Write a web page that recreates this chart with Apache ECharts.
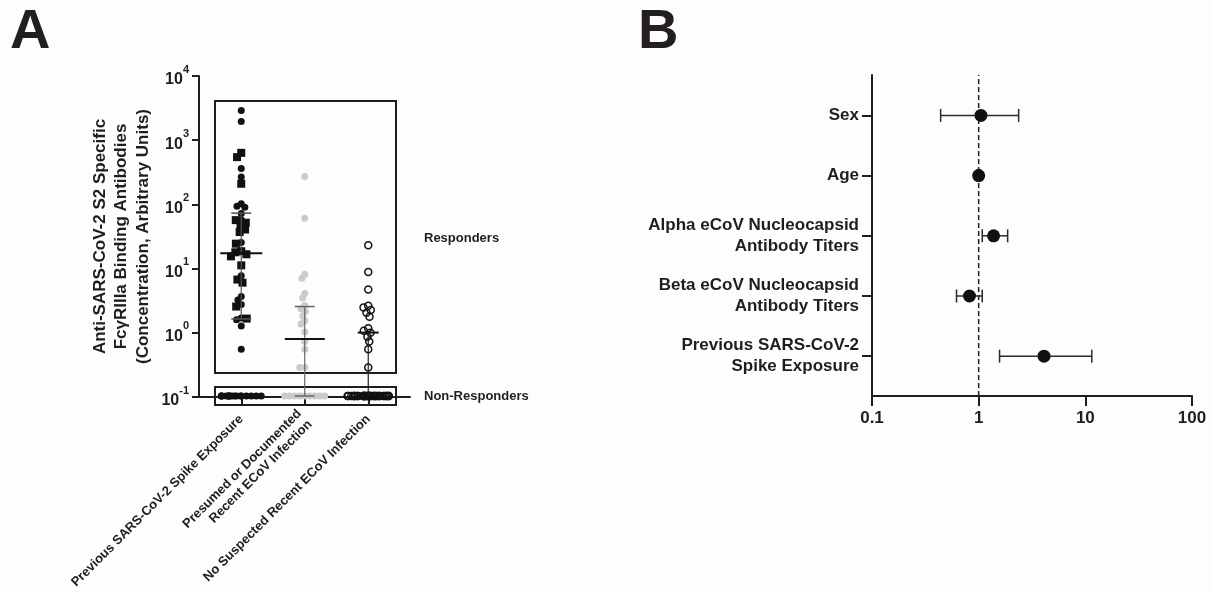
<!DOCTYPE html>
<html><head><meta charset="utf-8">
<script src="https://cdn.jsdelivr.net/npm/echarts@6/dist/echarts.min.js"></script>
<style>html,body{margin:0;padding:0;background:#fdfdfb}#c{width:1212px;height:592px}</style>
</head><body><div id="c"></div>
<script>
// ---------- Panel A data ----------
const groupsA = ['Previous SARS-CoV-2 Spike Exposure', 'Presumed or Documented\nRecent ECoV Infection', 'No Suspected Recent ECoV Infection'];
const spikeCircles = [2900, 1950, 360, 265, 101, 92, 89, 71, 57, 25, 7.6, 3.6, 3.15, 2.7, 1.65, 1.55, 1.24, 0.54];
const spikeSquares = [630, 540, 207, 56, 51, 46, 40, 36.5, 24, 18.3, 17.6, 16.4, 15.2, 11, 6.6, 5.9, 2.5, 1.62];
const spikeNonResp = [0.1, 0.1, 0.1, 0.1, 0.1, 0.1, 0.1, 0.1, 0.1, 0.1, 0.1, 0.1, 0.1, 0.1, 0.1, 0.1];
const ecovResp = [269, 60, 8.0, 6.9, 4.0, 3.4, 2.6, 2.3, 2.1, 1.8, 1.5, 1.33, 1.0, 0.71, 0.54, 0.28, 0.28];
const ecovNonResp = [0.1, 0.1, 0.1, 0.1, 0.1, 0.1, 0.1, 0.1, 0.1];
const noneResp = [22.6, 8.7, 4.6, 2.57, 2.42, 2.2, 2.0, 1.73, 1.14, 1.05, 0.97, 0.84, 0.71, 0.54, 0.28];
const noneNonResp = [0.1, 0.1, 0.1, 0.1, 0.1, 0.1, 0.1, 0.1, 0.1, 0.1, 0.1, 0.1, 0.1, 0.1, 0.1, 0.1, 0.1, 0.1, 0.1, 0.1,
                     0.1, 0.1, 0.1, 0.1, 0.1, 0.1, 0.1, 0.1, 0.1, 0.1, 0.1, 0.1, 0.1, 0.1, 0.1, 0.1, 0.1, 0.1, 0.1, 0.1];
const centerA = [17, 0.78, 0.98];
const barLowA = [1.6, 0.1, 0.1];
const barHighA = [72, 2.5, 0.98];

// ---------- Panel B data ----------
const predictors = ['Sex', 'Age', 'Alpha eCoV Nucleocapsid\nAntibody Titers', 'Beta eCoV Nucleocapsid\nAntibody Titers', 'Previous SARS-CoV-2\nSpike Exposure'];
const oddsRatio = [1.05, 1.0, 1.38, 0.82, 4.1];
const ciLow = [0.44, 0.97, 1.08, 0.62, 1.57];
const ciHigh = [2.37, 1.03, 1.87, 1.08, 11.5];
const nullEffect = 1;

// ---------- styling ----------
const FONT = 'Liberation Sans, Arial, Helvetica, sans-serif';
const INK = '#1e1e1e';
const summaryStyle = [
  {half: 21, cap: 10, bar: '#555'},
  {half: 20, cap: 10, bar: '#666'},
  {half: 10.5, cap: 0, bar: '#222'}
];

const pair = (idx, arr) => arr.map(v => [idx, v]);

const chart = echarts.init(document.getElementById('c'), null, {renderer: 'canvas'});
const hiddenX = gi => ({type: 'value', gridIndex: gi, show: false});
const hiddenY = gi => ({type: 'value', gridIndex: gi, show: false});

chart.setOption({
  backgroundColor: '#fdfdfb',
  animation: false,
  textStyle: {fontFamily: FONT},
  title: [
    {text: 'A', left: 5, top: 0, textStyle: {fontSize: 56, fontWeight: 'bold', color: '#231f20', fontFamily: FONT}},
    {text: 'B', left: 633, top: 0, textStyle: {fontSize: 56, fontWeight: 'bold', color: '#231f20', fontFamily: FONT}}
  ],
  grid: [
    {left: 199, top: 76, width: 211, height: 321},          // 0 A outer (axes)
    {left: 209.5, top: 76, width: 190.5, height: 321},      // 1 A inner (data)
    {left: 215, top: 101, width: 181, height: 272, show: true, borderColor: INK, borderWidth: 2}, // 2 responders box
    {left: 215, top: 387, width: 181, height: 18, show: true, borderColor: INK, borderWidth: 2},  // 3 non-responders box
    {left: 872, top: 75, width: 320, height: 321},          // 4 B outer
    {left: 872, top: 85.3, width: 320, height: 301}         // 5 B inner
  ],
  xAxis: [
    {type: 'value', gridIndex: 0, min: 0, max: 1, axisLine: {show: true, onZero: false, lineStyle: {color: INK, width: 2}},
     axisTick: {show: false}, axisLabel: {show: false}, splitLine: {show: false}},
    {type: 'category', gridIndex: 1, data: groupsA, boundaryGap: true,
     jitter: 42, jitterOverlap: false, jitterMargin: -2,
     axisLine: {show: false, onZero: false}, axisTick: {show: true, alignWithLabel: true, length: 8, lineStyle: {color: INK, width: 2}},
     axisLabel: {rotate: 45, margin: 21, fontSize: 13, fontWeight: 'bold', color: INK, fontFamily: FONT, lineHeight: 15, interval: 0},
     splitLine: {show: false}},
    hiddenX(2), hiddenX(3),
    {type: 'log', gridIndex: 4, logBase: 10, min: 0.1, max: 100,
     axisLine: {show: true, onZero: false, lineStyle: {color: INK, width: 2}},
     axisTick: {show: true, length: 10, lineStyle: {color: INK, width: 2}},
     axisLabel: {fontSize: 17, fontWeight: 'bold', color: INK, fontFamily: FONT, margin: 14,
                 formatter: v => (v < 1 ? v.toFixed(1) : String(Math.round(v)))},
     splitLine: {show: false}, minorTick: {show: false}},
    {type: 'log', gridIndex: 5, logBase: 10, min: 0.1, max: 100, show: false}
  ],
  yAxis: [
    {type: 'log', gridIndex: 0, logBase: 10, min: 0.1, max: 10000,
     axisLine: {show: true, onZero: false, lineStyle: {color: INK, width: 2}},
     axisTick: {show: true, length: 7, lineStyle: {color: INK, width: 2}},
     axisLabel: {margin: 10, color: INK,
       formatter: v => '{b|10}{s|' + Math.round(Math.log10(v)) + '}',
       rich: {
         b: {fontSize: 16, fontWeight: 'bold', fontFamily: FONT, color: INK, lineHeight: 24, verticalAlign: 'bottom'},
         s: {fontSize: 11, fontWeight: 'bold', fontFamily: FONT, color: INK, lineHeight: 24, verticalAlign: 'top'}
       }},
     splitLine: {show: false},
     name: 'Anti-SARS-CoV-2 S2 Specific\nFc\u03b3RIIIa Binding Antibodies\n(Concentration, Arbitrary Units)',
     nameLocation: 'middle', nameGap: 45, nameRotate: 90,
     nameTextStyle: {fontSize: 17, fontWeight: 'bold', color: INK, fontFamily: FONT, lineHeight: 21.5, align: 'center'}},
    {type: 'log', gridIndex: 1, logBase: 10, min: 0.1, max: 10000, show: false},
    hiddenY(2), hiddenY(3),
    {type: 'value', gridIndex: 4, min: 0, max: 1,
     axisLine: {show: true, onZero: false, lineStyle: {color: INK, width: 2}},
     axisTick: {show: false}, axisLabel: {show: false}, splitLine: {show: false}},
    {type: 'category', gridIndex: 5, data: predictors, inverse: true, boundaryGap: true,
     axisLine: {show: false}, axisTick: {show: true, alignWithLabel: true, length: 10, lineStyle: {color: INK, width: 2}},
     axisLabel: {margin: 13, fontSize: 17, fontWeight: 'bold', color: INK, fontFamily: FONT, lineHeight: 21, align: 'right', interval: 0},
     splitLine: {show: false}}
  ],
  graphic: [
    {type: 'text', x: 424, y: 238, style: {text: 'Responders', fontSize: 13, fontWeight: 'bold', fontFamily: FONT, fill: INK, verticalAlign: 'middle'}},
    {type: 'text', x: 424, y: 396, style: {text: 'Non-Responders', fontSize: 13, fontWeight: 'bold', fontFamily: FONT, fill: INK, verticalAlign: 'middle'}}
  ],
  series: [
    {type: 'scatter', xAxisIndex: 1, yAxisIndex: 1, clip: false, symbol: 'circle', symbolSize: 7,
     itemStyle: {color: '#111', opacity: 1}, data: pair(0, spikeCircles), z: 3},
    {type: 'scatter', xAxisIndex: 1, yAxisIndex: 1, clip: false, symbol: 'rect', symbolSize: 8,
     itemStyle: {color: '#111', opacity: 1}, data: pair(0, spikeSquares), z: 3},
    {type: 'scatter', xAxisIndex: 1, yAxisIndex: 1, clip: false, symbol: 'circle', symbolSize: 7,
     itemStyle: {color: '#111', opacity: 1}, data: pair(0, spikeNonResp), z: 3},
    {type: 'scatter', xAxisIndex: 1, yAxisIndex: 1, clip: false, symbol: 'circle', symbolSize: 7,
     itemStyle: {color: '#cbcbcb', opacity: 1}, data: pair(1, ecovResp.concat(ecovNonResp)), z: 3},
    {type: 'scatter', xAxisIndex: 1, yAxisIndex: 1, clip: false, symbol: 'circle', symbolSize: 7,
     itemStyle: {color: 'rgba(0,0,0,0)', borderColor: '#111', borderWidth: 1.5, opacity: 1}, data: pair(2, noneResp.concat(noneNonResp)), z: 3},
    {type: 'custom', xAxisIndex: 1, yAxisIndex: 1, z: 5, clip: false,
     encode: {x: 0, y: [1, 2, 3]},
     data: centerA.map((m, i) => [i, m, barLowA[i], barHighA[i]]),
     renderItem: (params, api) => {
       const c = api.value(0);
       const m = api.coord([c, api.value(1)]);
       const lo = api.coord([c, api.value(2)]);
       const hi = api.coord([c, api.value(3)]);
       const st = summaryStyle[params.dataIndex];
       const ch = [
         {type: 'line', shape: {x1: lo[0], y1: lo[1], x2: hi[0], y2: hi[1]}, style: {stroke: st.bar, lineWidth: 1.2}},
         {type: 'line', shape: {x1: m[0] - st.half, y1: m[1], x2: m[0] + st.half, y2: m[1]}, style: {stroke: '#111', lineWidth: 2}}
       ];
       if (st.cap > 0) {
         ch.push({type: 'line', shape: {x1: hi[0] - st.cap, y1: hi[1], x2: hi[0] + st.cap, y2: hi[1]}, style: {stroke: st.bar, lineWidth: 1.5}});
         ch.push({type: 'line', shape: {x1: lo[0] - st.cap, y1: lo[1], x2: lo[0] + st.cap, y2: lo[1]}, style: {stroke: st.bar, lineWidth: 1.5}});
       }
       return {type: 'group', children: ch};
     }},
    // Panel B
    {type: 'line', xAxisIndex: 4, yAxisIndex: 4, symbol: 'none', z: 1,
     lineStyle: {color: INK, width: 1.5, type: [5, 3]},
     data: [[nullEffect, 0], [nullEffect, 1]]},
    {type: 'custom', xAxisIndex: 5, yAxisIndex: 5, z: 3,
     encode: {y: 0, x: [1, 2, 3]},
     data: oddsRatio.map((v, i) => [i, v, ciLow[i], ciHigh[i]]),
     renderItem: (params, api) => {
       const c = api.value(0);
       const lo = api.coord([api.value(2), c]);
       const hi = api.coord([api.value(3), c]);
       const cap = 6.5;
       const s = {stroke: '#2a2a2a', lineWidth: 1.5};
       return {type: 'group', children: [
         {type: 'line', shape: {x1: lo[0], y1: lo[1], x2: hi[0], y2: hi[1]}, style: s},
         {type: 'line', shape: {x1: lo[0], y1: lo[1] - cap, x2: lo[0], y2: lo[1] + cap}, style: s},
         {type: 'line', shape: {x1: hi[0], y1: hi[1] - cap, x2: hi[0], y2: hi[1] + cap}, style: s}
       ]};
     }},
    {type: 'scatter', xAxisIndex: 5, yAxisIndex: 5, symbol: 'circle', symbolSize: 13, z: 4,
     itemStyle: {color: '#111', opacity: 1},
     data: oddsRatio.map((v, i) => [v, i])}
  ]
});
</script></body></html>
